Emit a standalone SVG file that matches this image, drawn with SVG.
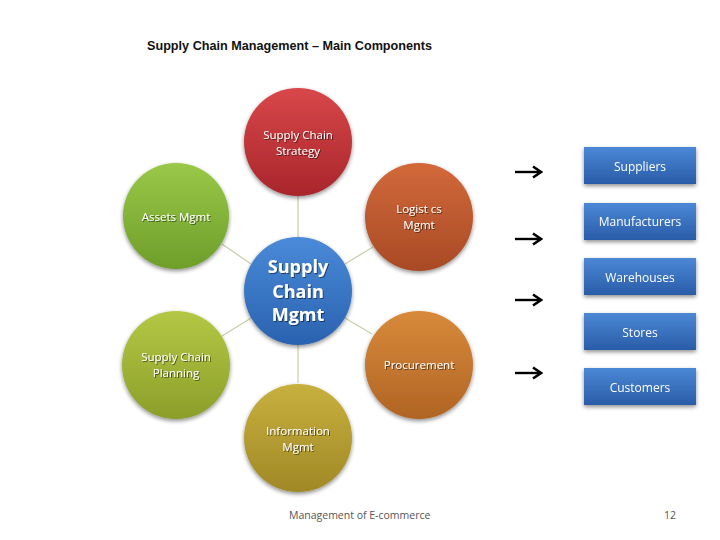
<svg xmlns="http://www.w3.org/2000/svg" width="720" height="540" viewBox="0 0 720 540">
<defs>
<filter id="sh" x="-20%" y="-20%" width="140%" height="140%"><feGaussianBlur in="SourceAlpha" stdDeviation="2"/><feOffset dx="0" dy="2"/><feComponentTransfer><feFuncA type="linear" slope="0.45"/></feComponentTransfer><feMerge><feMergeNode/><feMergeNode in="SourceGraphic"/></feMerge></filter>
<filter id="ts" x="-10%" y="-10%" width="120%" height="130%"><feGaussianBlur in="SourceAlpha" stdDeviation="0.6"/><feOffset dx="0.6" dy="0.8"/><feComponentTransfer><feFuncA type="linear" slope="0.5"/></feComponentTransfer><feMerge><feMergeNode/><feMergeNode in="SourceGraphic"/></feMerge></filter>
<linearGradient id="gRed" x1="0" y1="0" x2="0" y2="1"><stop offset="0" stop-color="#d8474a"/><stop offset="1" stop-color="#a8262b"/></linearGradient>
<linearGradient id="gLog" x1="0" y1="0" x2="0" y2="1"><stop offset="0" stop-color="#d2693a"/><stop offset="1" stop-color="#a84a26"/></linearGradient>
<linearGradient id="gAss" x1="0" y1="0" x2="0" y2="1"><stop offset="0" stop-color="#9ac848"/><stop offset="1" stop-color="#6e9e2a"/></linearGradient>
<linearGradient id="gPla" x1="0" y1="0" x2="0" y2="1"><stop offset="0" stop-color="#b4c845"/><stop offset="1" stop-color="#8c9e2a"/></linearGradient>
<linearGradient id="gPro" x1="0" y1="0" x2="0" y2="1"><stop offset="0" stop-color="#d88a3a"/><stop offset="1" stop-color="#b06424"/></linearGradient>
<linearGradient id="gInf" x1="0" y1="0" x2="0" y2="1"><stop offset="0" stop-color="#c8b03e"/><stop offset="1" stop-color="#a08826"/></linearGradient>
<linearGradient id="gCen" x1="0" y1="0" x2="0" y2="1"><stop offset="0" stop-color="#4a8ad8"/><stop offset="1" stop-color="#2a62b0"/></linearGradient>
<linearGradient id="gBox" x1="0" y1="0" x2="0" y2="1"><stop offset="0" stop-color="#4a88d6"/><stop offset="1" stop-color="#2a5ca8"/></linearGradient>
<marker id="ah" viewBox="0 0 12 14" refX="10" refY="7" markerWidth="12" markerHeight="14" markerUnits="userSpaceOnUse" orient="auto"><path d="M2,1.5 L10,7 L2,12.5" fill="none" stroke="#000" stroke-width="2.6"/></marker>
</defs>
<style>
.ct{font-family:"Open Sans","Liberation Sans",sans-serif;font-size:11.5px;fill:#fff;text-anchor:middle}
.cc{font-family:"Open Sans","Liberation Sans",sans-serif;font-size:18px;font-weight:bold;fill:#fff;text-anchor:middle}
.bt{font-family:"Open Sans","Liberation Sans",sans-serif;font-size:12px;fill:#fff;text-anchor:middle}
.ln{stroke:#c8cca8;stroke-width:1.2}
.ar{stroke:#000;stroke-width:2.4;fill:none}
.ft{font-family:"Open Sans","Liberation Sans",sans-serif;font-size:10.5px;fill:#555}
</style>
<rect width="720" height="540" fill="#fff"/>
<text x="147" y="50" font-family="Liberation Sans,sans-serif" font-size="13" font-weight="bold" fill="#111" textLength="285" lengthAdjust="spacingAndGlyphs">Supply Chain Management – Main Components</text>
<g id="connectors">
<line class="ln" x1="298" y1="196" x2="298" y2="237"/>
<line class="ln" x1="251" y1="264" x2="222" y2="244"/>
<line class="ln" x1="345" y1="264" x2="373" y2="247"/>
<line class="ln" x1="251" y1="318" x2="222" y2="336"/>
<line class="ln" x1="345" y1="318" x2="372" y2="334"/>
<line class="ln" x1="298" y1="345" x2="298" y2="383"/>
<line class="ar" x1="515" y1="172" x2="541" y2="172" marker-end="url(#ah)"/>
<line class="ar" x1="515" y1="239" x2="541" y2="239" marker-end="url(#ah)"/>
<line class="ar" x1="515" y1="300" x2="541" y2="300" marker-end="url(#ah)"/>
<line class="ar" x1="515" y1="373" x2="541" y2="373" marker-end="url(#ah)"/>
</g>
<g id="strategy" filter="url(#sh)"><circle cx="298" cy="142" r="54" fill="url(#gRed)"/><g filter="url(#ts)"><text class="ct" x="298" y="139">Supply Chain</text><text class="ct" x="298" y="155">Strategy</text></g></g>
<g id="assets" filter="url(#sh)"><circle cx="176" cy="216" r="53" fill="url(#gAss)"/><text class="ct" x="176" y="221" filter="url(#ts)">Assets Mgmt</text></g>
<g id="logistics" filter="url(#sh)"><circle cx="419" cy="217" r="54" fill="url(#gLog)"/><g filter="url(#ts)"><text class="ct" x="419" y="213">Logist cs</text><text class="ct" x="419" y="229">Mgmt</text></g></g>
<g id="center" filter="url(#sh)"><circle cx="298" cy="291" r="54" fill="url(#gCen)"/><g filter="url(#ts)"><text class="cc" x="298" y="273">Supply</text><text class="cc" x="298" y="298">Chain</text><text class="cc" x="298" y="321">Mgmt</text></g></g>
<g id="planning" filter="url(#sh)"><circle cx="176" cy="365" r="54" fill="url(#gPla)"/><g filter="url(#ts)"><text class="ct" x="176" y="361">Supply Chain</text><text class="ct" x="176" y="377">Planning</text></g></g>
<g id="procurement" filter="url(#sh)"><circle cx="419" cy="365" r="54" fill="url(#gPro)"/><text class="ct" x="419" y="369" filter="url(#ts)">Procurement</text></g>
<g id="information" filter="url(#sh)"><circle cx="298" cy="438" r="54" fill="url(#gInf)"/><g filter="url(#ts)"><text class="ct" x="298" y="435">Information</text><text class="ct" x="298" y="451">Mgmt</text></g></g>
<g id="suppliers" filter="url(#sh)"><rect x="584" y="147" width="112" height="37" fill="url(#gBox)"/><text class="bt" x="640" y="171">Suppliers</text></g>
<g id="manufacturers" filter="url(#sh)"><rect x="584" y="203" width="112" height="37" fill="url(#gBox)"/><text class="bt" x="640" y="226">Manufacturers</text></g>
<g id="warehouses" filter="url(#sh)"><rect x="584" y="258" width="112" height="37" fill="url(#gBox)"/><text class="bt" x="640" y="282">Warehouses</text></g>
<g id="stores" filter="url(#sh)"><rect x="584" y="313" width="112" height="37" fill="url(#gBox)"/><text class="bt" x="640" y="337">Stores</text></g>
<g id="customers" filter="url(#sh)"><rect x="584" y="368" width="112" height="37" fill="url(#gBox)"/><text class="bt" x="640" y="392">Customers</text></g>
<text class="ft" x="289" y="519">Management of E-commerce</text>
<text class="ft" x="664" y="519">12</text>
</svg>
